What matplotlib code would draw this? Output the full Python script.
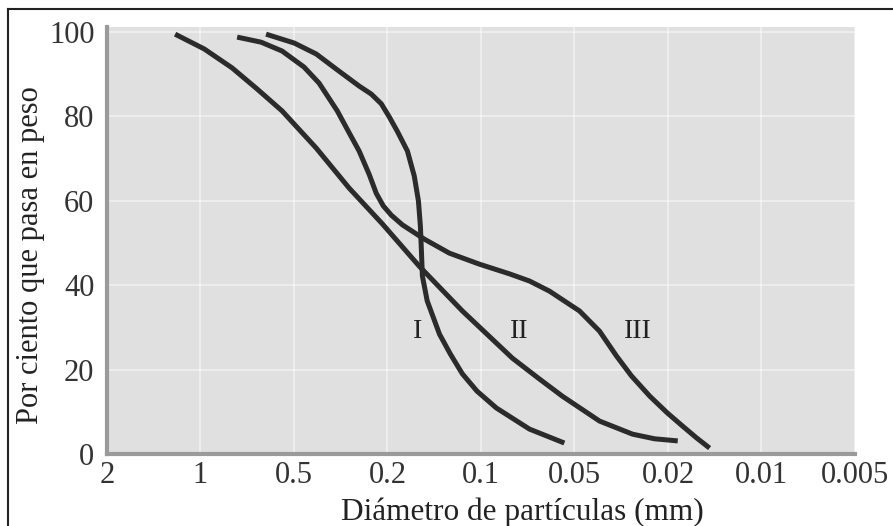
import matplotlib
matplotlib.use("Agg")
import matplotlib.pyplot as plt
from matplotlib.lines import Line2D
import numpy as np

plt.rcParams['font.family'] = ['Liberation Serif', 'DejaVu Serif']

# diameter ticks (mm) - printed evenly spaced on the chart
tick_vals = [2, 1, 0.5, 0.2, 0.1, 0.05, 0.02, 0.01, 0.005]
tick_labels = ['2', '1', '0.5', '0.2', '0.1', '0.05', '0.02', '0.01', '0.005']
y_ticks = [0, 20, 40, 60, 80, 100]

# curve I (poorly graded)
d_I = [0.615, 0.499, 0.402, 0.330, 0.264, 0.2344, 0.2125, 0.1974, 0.186, 0.1725,
       0.164, 0.159, 0.1567, 0.1555, 0.1544, 0.149, 0.136, 0.1255, 0.1148, 0.103,
       0.0892, 0.0698, 0.0539]
p_I = [99.5, 97.4, 94.8, 91.2, 87.2, 85.3, 83.0, 79.9, 76.5, 71.8,
       65.9, 60.0, 54.0, 48.1, 42.2, 36.3, 28.4, 23.7, 19.0, 14.9,
       10.9, 5.9, 2.6]

# curve II (well graded)
d_II = [1.207, 0.973, 0.791, 0.657, 0.546, 0.402, 0.291, 0.210, 0.158, 0.1148,
        0.0792, 0.0649, 0.0547, 0.0391, 0.0283, 0.0228, 0.0186]
p_II = [99.5, 96.0, 91.5, 86.5, 81.3, 72.5, 63.0, 54.5, 44.5, 33.9,
        22.7, 17.8, 13.7, 7.8, 4.7, 3.6, 3.1]

# curve III (gap graded)
d_III = [0.762, 0.638, 0.546, 0.453, 0.391, 0.327, 0.291, 0.264, 0.239, 0.2233,
         0.2084, 0.1944, 0.179, 0.152, 0.1264, 0.1013, 0.081, 0.0698, 0.0602,
         0.0476, 0.0391, 0.0331, 0.0286, 0.0239, 0.0201, 0.01794, 0.01617, 0.01469]
p_III = [98.8, 97.6, 95.5, 91.7, 87.9, 81.3, 76.1, 71.8, 66.2, 61.8,
         58.8, 56.6, 54.3, 50.9, 47.6, 45.0, 42.7, 41.0, 38.6,
         33.9, 29.1, 23.2, 18.5, 13.7, 9.7, 6.6, 3.8, 1.4]

labels = ['I', 'II', 'III']
label_d = [0.160, 0.0752, 0.0269]
label_p = [29, 29, 29]

# piecewise log scale so the ticks sit evenly like the printed figure
_lv = np.log10(tick_vals)[::-1]
_idx = np.arange(len(tick_vals), dtype=float)


def fwd(d):
    with np.errstate(divide='ignore', invalid='ignore'):
        v = np.log10(np.asarray(d, dtype=float))
    return np.interp(v, _lv, _idx)


def inv(i):
    return 10 ** np.interp(np.asarray(i, dtype=float), _idx, _lv)


fig = plt.figure(figsize=(8.93, 5.26), dpi=100)
ax = fig.add_axes([0.1198, 0.1369, 0.8376, 0.8118])
ax.set_facecolor('#e0e0e0')
ax.set_xscale('function', functions=(fwd, inv))
ax.set_xlim(2, 0.005)
ax.set_ylim(0, 101.2)

for d, p in [(d_I, p_I), (d_II, p_II), (d_III, p_III)]:
    ax.plot(d, p, color='#2b2b2b', lw=3.6, solid_capstyle='butt', solid_joinstyle='round')

for t, d, p in zip(labels, label_d, label_p):
    ax.text(d, p, t, fontsize=20, ha='center', va='center', color='#222222')

ax.set_xticks(tick_vals)
ax.set_xticklabels(tick_labels)
ax.set_yticks(y_ticks)
ax.tick_params(length=0, labelsize=22, pad=5, colors='#333333')
ax.tick_params(axis='y', pad=9)
ax.grid(True, color='white', lw=1.5, alpha=0.45)
ax.set_axisbelow(True)

for s in ['top', 'right']:
    ax.spines[s].set_visible(False)
for s in ['left', 'bottom']:
    ax.spines[s].set_color('#9a9a9a')
    ax.spines[s].set_linewidth(3)

fig.text(0.585, 0.027, 'Diámetro de partículas (mm)', fontsize=22.5, ha='center', va='center', color='#222222')
fig.text(0.034, 0.515, 'Por ciento que pasa en peso', fontsize=22, ha='center', va='center',
         rotation=90, color='#222222')

# frame lines at top and left of the picture
fig.add_artist(Line2D([0.009, 1.0], [0.983, 0.983], color='#222222', lw=1.5))
fig.add_artist(Line2D([0.009, 0.009], [0.0, 0.983], color='#222222', lw=1.5))

fig.savefig('out.png', dpi=100)
